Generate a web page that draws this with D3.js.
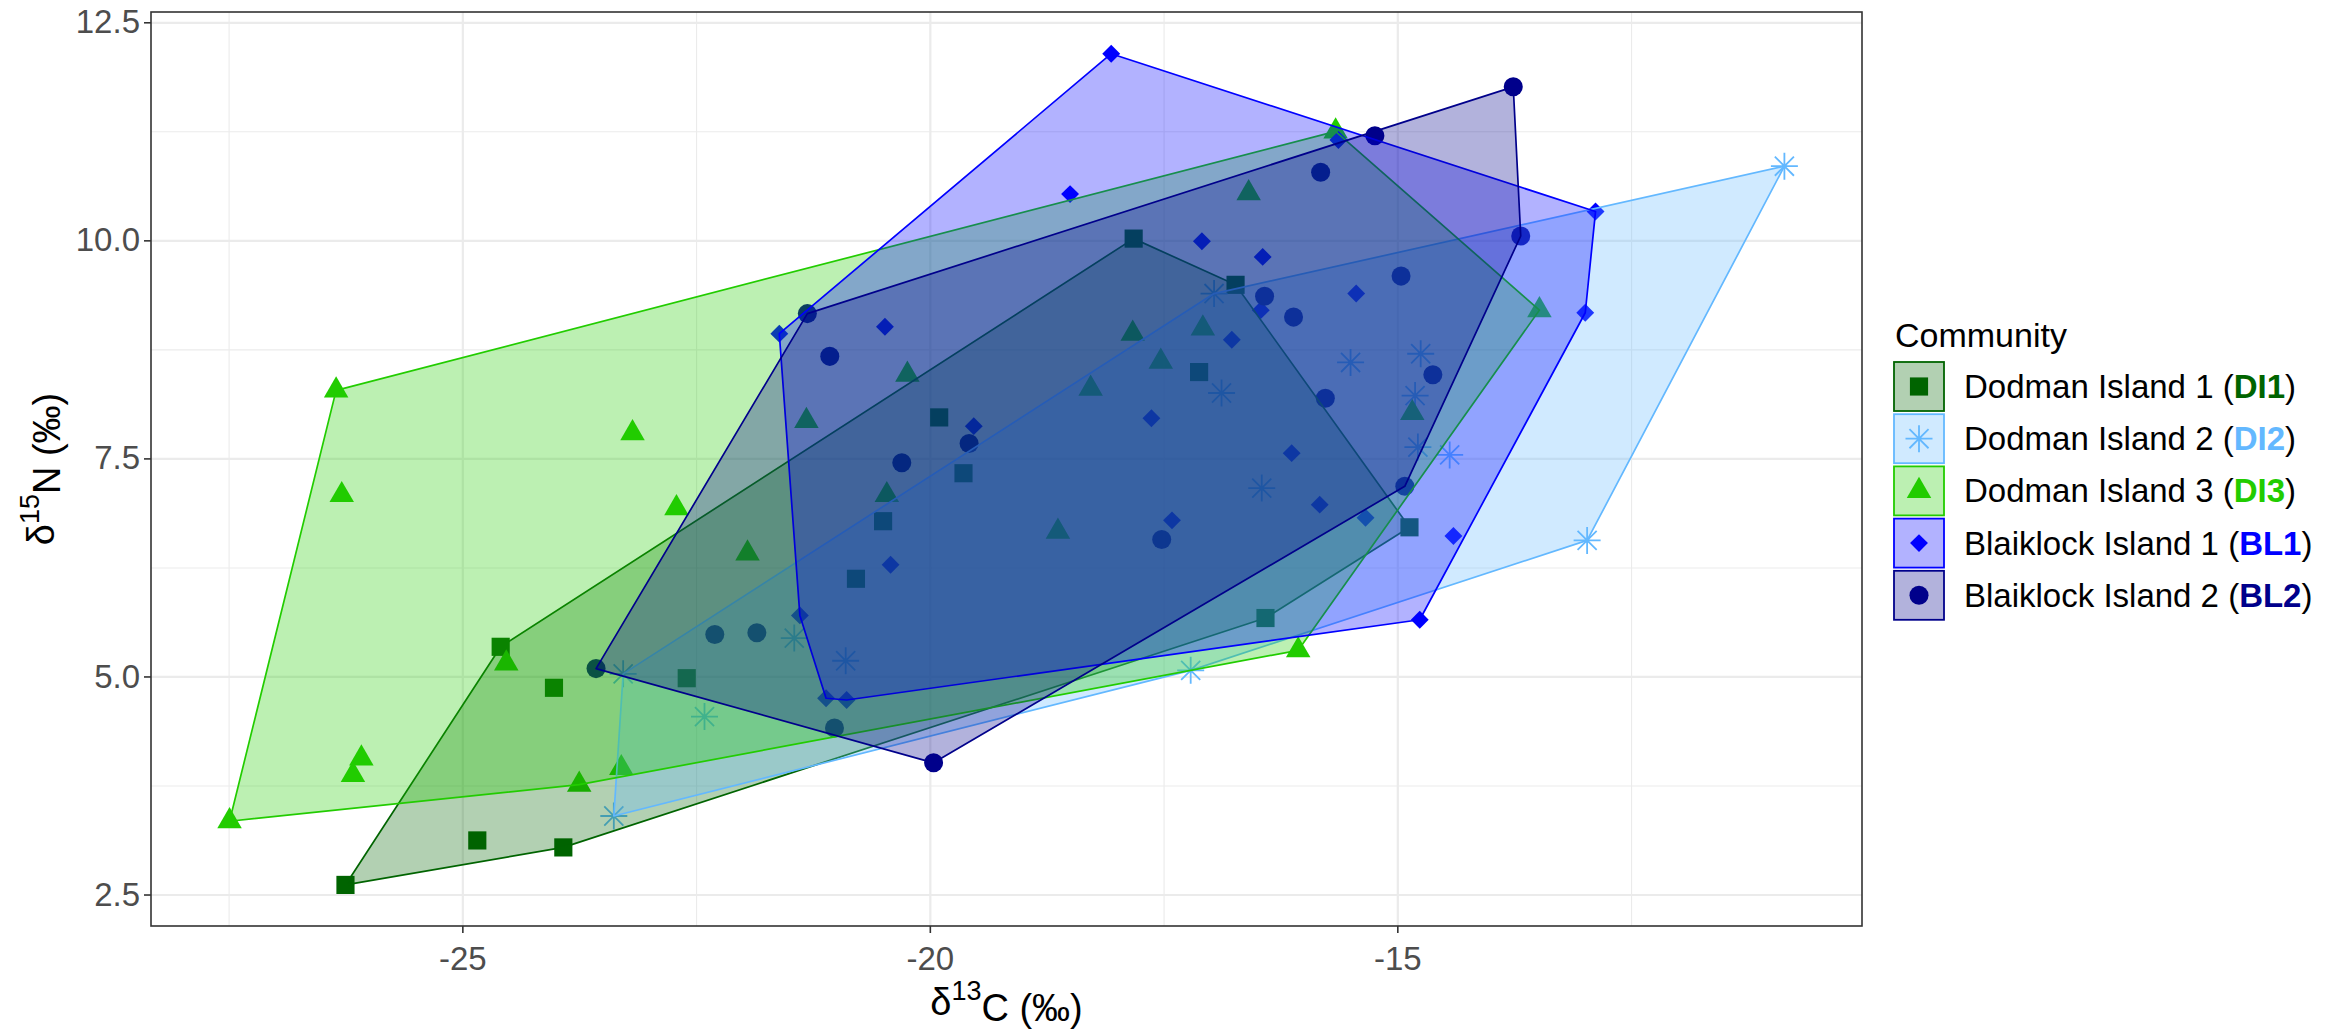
<!DOCTYPE html>
<html>
<head>
<meta charset="utf-8">
<script src="https://cdn.jsdelivr.net/npm/d3@7"></script>
<style>
  body { margin: 0; background: #ffffff; }
  text { font-family: "Liberation Sans", Arial, sans-serif; }
</style>
</head>
<body>
<div id="chart"></div>
<script>
// d13C (x) and d15N (y) values per community
var di1X = [-26.25, -24.84, -23.92, -24.02, -24.59, -22.60, -20.79, -20.50, -19.90, -19.64, -17.82, -16.73, -17.12, -16.41, -14.87];
var di1Y = [2.61, 3.12, 3.04, 4.87, 5.34, 4.98, 6.12, 6.78, 7.97, 7.33, 10.02, 9.49, 8.49, 5.67, 6.71];

var di2X = [-10.86, -12.97, -23.38, -23.28, -22.41, -21.45, -20.90, -17.21, -16.45, -16.96, -16.88, -15.50, -14.75, -14.81, -14.78, -14.44];
var di2Y = [10.85, 6.56, 3.40, 5.03, 4.54, 5.44, 5.18, 5.07, 7.16, 9.39, 8.25, 8.60, 8.70, 8.22, 7.63, 7.54];

var di3X = [-27.49, -26.35, -26.29, -26.08, -26.17, -24.53, -23.18, -22.71, -23.75, -23.30, -21.95, -21.32, -20.46, -20.24, -18.63, -18.28, -17.83, -17.53, -17.08, -16.59, -15.66, -13.48, -14.84, -16.06];
var di3Y = [3.34, 8.28, 7.08, 4.06, 3.87, 5.15, 7.79, 6.93, 3.76, 3.95, 6.41, 7.93, 7.08, 8.46, 6.66, 8.30, 8.93, 8.61, 8.99, 10.54, 11.25, 9.20, 8.02, 5.30];

var bl1X = [-18.06, -18.50, -21.61, -20.48, -17.09, -16.44, -16.46, -16.77, -19.53, -17.63, -16.13, -15.63, -12.88, -12.99, -15.44, -17.41, -20.42, -21.39, -21.11, -20.89, -15.83, -15.34, -14.40, -14.76];
var bl1Y = [12.14, 10.53, 8.93, 9.01, 9.99, 9.81, 9.20, 8.86, 7.87, 7.96, 7.56, 11.15, 10.33, 9.17, 9.39, 6.79, 6.28, 5.70, 4.75, 4.73, 6.97, 6.82, 6.61, 5.65];

var bl2X = [-13.76, -15.24, -13.68, -15.82, -14.96, -16.42, -16.11, -14.62, -15.77, -14.92, -21.31, -21.07, -19.58, -20.30, -22.30, -21.85, -21.02, -19.96, -17.52, -23.57];
var bl2Y = [11.76, 11.20, 10.05, 10.78, 9.59, 9.36, 9.12, 8.46, 8.19, 7.18, 9.16, 8.67, 7.67, 7.45, 5.48, 5.50, 4.41, 4.01, 6.57, 5.09];

var groupNames = ["Dodman Island 1", "Dodman Island 2", "Dodman Island 3", "Blaiklock Island 1", "Blaiklock Island 2"];
var groupCodes = ["DI1", "DI2", "DI3", "BL1", "BL2"];
var groupColors = ["#006400", "#63B8FF", "#22CC00", "#0000FF", "#00008B"];
var groupShapes = ["square", "asterisk", "triangle", "diamond", "circle"];

var xTicks = [-25, -20, -15];
var xMinor = [-27.5, -22.5, -17.5, -12.5];
var yTicks = [2.5, 5.0, 7.5, 10.0, 12.5];
var yMinor = [3.75, 6.25, 8.75, 11.25];

var groupX = [di1X, di2X, di3X, bl1X, bl2X];
var groupY = [di1Y, di2Y, di3Y, bl1Y, bl2Y];

// SVG Window
var svgWidth = 2328;
var svgHeight = 1031;

var margin = { top: 12, right: 466, bottom: 105, left: 151 };
var width = svgWidth - margin.left - margin.right;
var height = svgHeight - margin.top - margin.bottom;

var svg = d3.select("#chart")
  .append("svg")
  .attr("width", svgWidth)
  .attr("height", svgHeight);

var chartGroup = svg.append("g")
  .attr("transform", `translate(${margin.left}, ${margin.top})`);

// Scales
var xScale = d3.scaleLinear().domain([-28.33, -10.03]).range([0, width]);
var yScale = d3.scaleLinear().domain([2.139, 12.618]).range([height, 0]);

// Custom marker shapes (ggplot-like asterisk and diamond)
var symAsterisk = {
  draw: function(ctx, size) {
    var r = Math.sqrt(size) / 2;
    var d = r * Math.SQRT1_2;
    ctx.moveTo(-r, 0); ctx.lineTo(r, 0);
    ctx.moveTo(0, -r); ctx.lineTo(0, r);
    ctx.moveTo(-d, -d); ctx.lineTo(d, d);
    ctx.moveTo(-d, d); ctx.lineTo(d, -d);
  }
};
var symDiamond = {
  draw: function(ctx, size) {
    var r = Math.sqrt(size) / 2;
    ctx.moveTo(0, -r); ctx.lineTo(r, 0); ctx.lineTo(0, r); ctx.lineTo(-r, 0); ctx.closePath();
  }
};

function markerPath(shape) {
  if (shape == "square") return d3.symbol(d3.symbolSquare, 330)();
  if (shape == "asterisk") return d3.symbol(symAsterisk, 729)();
  if (shape == "triangle") return d3.symbol(d3.symbolTriangle, 260)();
  if (shape == "diamond") return d3.symbol(symDiamond, 320)();
  return d3.symbol(d3.symbolCircle, 285)();
}

function drawMarker(sel, i) {
  var isLine = groupShapes[i] == "asterisk";
  sel.attr("d", markerPath(groupShapes[i]))
    .attr("fill", isLine ? "none" : groupColors[i])
    .attr("stroke", isLine ? groupColors[i] : "none")
    .attr("stroke-width", isLine ? 1.8 : 0);
}

// Gridlines
chartGroup.append("g")
  .attr("transform", `translate(0, ${height})`)
  .call(d3.axisBottom(xScale).tickValues(xMinor).tickSize(-height).tickFormat(""))
  .call(g => g.select(".domain").remove())
  .selectAll("line").attr("stroke", "#EBEBEB").attr("stroke-width", 1.1);

chartGroup.append("g")
  .call(d3.axisLeft(yScale).tickValues(yMinor).tickSize(-width).tickFormat(""))
  .call(g => g.select(".domain").remove())
  .selectAll("line").attr("stroke", "#EBEBEB").attr("stroke-width", 1.1);

chartGroup.append("g")
  .attr("transform", `translate(0, ${height})`)
  .call(d3.axisBottom(xScale).tickValues(xTicks).tickSize(-height).tickFormat(""))
  .call(g => g.select(".domain").remove())
  .selectAll("line").attr("stroke", "#EBEBEB").attr("stroke-width", 2.2);

chartGroup.append("g")
  .call(d3.axisLeft(yScale).tickValues(yTicks).tickSize(-width).tickFormat(""))
  .call(g => g.select(".domain").remove())
  .selectAll("line").attr("stroke", "#EBEBEB").attr("stroke-width", 2.2);

// Points (drawn under the hull layer)
var pointLayer = chartGroup.append("g");
groupX.forEach(function(xs, i) {
  var pts = xs.map((v, k) => [v, groupY[i][k]]);
  pointLayer.append("g").selectAll("path")
    .data(pts)
    .enter()
    .append("path")
    .attr("transform", d => `translate(${xScale(d[0])}, ${yScale(d[1])})`)
    .call(drawMarker, i);
});

// Convex hulls
var hullLayer = chartGroup.append("g");
groupX.forEach(function(xs, i) {
  var pix = xs.map((v, k) => [xScale(v), yScale(groupY[i][k])]);
  var hull = d3.polygonHull(pix);
  hullLayer.append("path")
    .attr("d", "M" + hull.join("L") + "Z")
    .attr("fill", groupColors[i])
    .attr("fill-opacity", 0.3)
    .attr("stroke", groupColors[i])
    .attr("stroke-width", 1.7)
    .attr("stroke-linejoin", "round");
});

// Panel border
chartGroup.append("rect")
  .attr("width", width)
  .attr("height", height)
  .attr("fill", "none")
  .attr("stroke", "#333333")
  .attr("stroke-width", 1.6);

// Axes
var xAxis = chartGroup.append("g")
  .attr("transform", `translate(0, ${height})`)
  .call(d3.axisBottom(xScale).tickValues(xTicks).tickSize(7).tickPadding(6).tickFormat(d => String(d)));

var yAxis = chartGroup.append("g")
  .call(d3.axisLeft(yScale).tickValues(yTicks).tickSize(7).tickPadding(4).tickFormat(d3.format(".1f")));

[xAxis, yAxis].forEach(function(ax) {
  ax.select(".domain").remove();
  ax.selectAll("line").attr("stroke", "#333333").attr("stroke-width", 1.6);
  ax.selectAll("text")
    .attr("fill", "#4D4D4D")
    .style("font-size", "33px")
    .style("font-family", "'Liberation Sans', Arial, sans-serif");
});
xAxis.selectAll("text").attr("dy", "0.95em");

// Axis titles
var xTitle = svg.append("text")
  .attr("x", margin.left + width / 2)
  .attr("y", 1015)
  .attr("text-anchor", "middle")
  .style("font-size", "38px")
  .attr("fill", "#000");
xTitle.append("tspan").text("δ");
xTitle.append("tspan").attr("dy", "-0.55em").style("font-size", "27px").text("13");
xTitle.append("tspan").attr("dy", "0.55em").text("C (‰)");

var yTitle = svg.append("text")
  .attr("transform", `translate(54, ${margin.top + height / 2}) rotate(-90)`)
  .attr("text-anchor", "middle")
  .style("font-size", "38px")
  .attr("fill", "#000");
yTitle.append("tspan").text("δ");
yTitle.append("tspan").attr("dy", "-0.55em").style("font-size", "27px").text("15");
yTitle.append("tspan").attr("dy", "0.55em").text("N (‰)");

// Legend
var legend = svg.append("g");

legend.append("text")
  .attr("x", 1895)
  .attr("y", 347)
  .style("font-size", "34px")
  .attr("fill", "#000")
  .text("Community");

groupNames.forEach(function(name, i) {
  var top = 362 + i * 52.2;
  var row = legend.append("g");

  row.append("rect")
    .attr("x", 1894)
    .attr("y", top)
    .attr("width", 50)
    .attr("height", 49)
    .attr("fill", groupColors[i])
    .attr("fill-opacity", 0.3)
    .attr("stroke", groupColors[i])
    .attr("stroke-width", 1.8);

  row.append("path")
    .attr("transform", `translate(1919, ${top + 24.5})`)
    .call(drawMarker, i);

  var label = row.append("text")
    .attr("x", 1964)
    .attr("y", top + 24.5 + 11.5)
    .style("font-size", "33px")
    .attr("fill", "#000");
  label.append("tspan").text(name + " (");
  label.append("tspan").attr("font-weight", "bold").attr("fill", groupColors[i]).text(groupCodes[i]);
  label.append("tspan").text(")");
});
</script>
</body>
</html>
